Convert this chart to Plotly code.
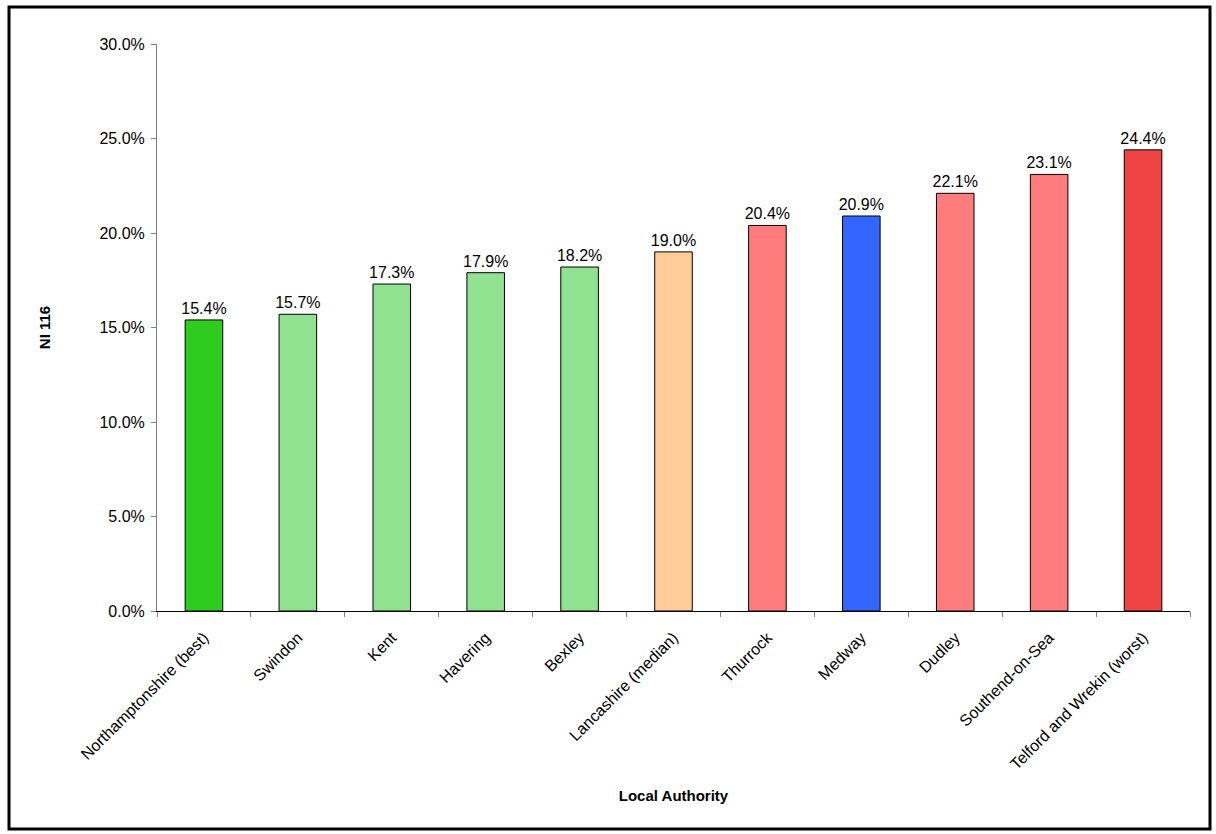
import plotly.graph_objects as go

authorities = ["Northamptonshire (best)", "Swindon", "Kent", "Havering", "Bexley",
               "Lancashire (median)", "Thurrock", "Medway", "Dudley", "Southend-on-Sea",
               "Telford and Wrekin (worst)"]
values = [0.154, 0.157, 0.173, 0.179, 0.182, 0.190, 0.204, 0.209, 0.221, 0.231, 0.244]
colors = ["#2ECC1E", "#90E290", "#90E290", "#90E290", "#90E290", "#FFCC99",
          "#FF7C7C", "#3366FF", "#FF7C7C", "#FF7C7C", "#EE4444"]
y_ticks = [0.0, 0.05, 0.10, 0.15, 0.20, 0.25, 0.30]

W, H = 1216, 834
ml, mr, mt, mb = 157, 26, 44, 223
pw, ph = W - ml - mr, H - mt - mb

font = "Liberation Sans, Arial"

fig = go.Figure(go.Bar(
    x=authorities, y=values,
    marker=dict(color=colors, line=dict(color="black", width=1)),
    width=0.4,
    text=[f"{v*100:.1f}%" for v in values],
    textposition="outside",
    constraintext="none",
    textfont=dict(family=font, size=16, color="black"),
    cliponaxis=False,
))

fig.update_layout(
    width=W, height=H,
    margin=dict(l=ml, r=mr, t=mt, b=mb),
    plot_bgcolor="white", paper_bgcolor="white",
    showlegend=False,
    font=dict(family=font, size=16, color="black"),
    xaxis=dict(
        showline=True, linecolor="black", linewidth=1,
        ticks="outside", tickson="boundaries", ticklen=5, tickcolor="#808080",
        tickangle=-45, tickfont=dict(size=16), ticklabelstandoff=10,
        title=dict(text="<b>Local Authority</b>", font=dict(size=15), standoff=18),
    ),
    yaxis=dict(
        range=[0, 0.30], tickvals=y_ticks, tickformat=".1%",
        showline=True, linecolor="#808080", linewidth=1,
        ticks="outside", ticklen=5, tickcolor="#808080",
        showgrid=False, zeroline=False,
        tickfont=dict(size=16), ticklabelstandoff=3,
        title=dict(text="<b>NI 116</b>", font=dict(size=15), standoff=45),
    ),
    shapes=[dict(
        type="rect", xref="paper", yref="paper",
        x0=(9 - ml) / pw, x1=(1210 - ml) / pw,
        y0=(H - mb - 829) / ph, y1=(H - mb - 7) / ph,
        line=dict(color="black", width=3), layer="below",
    )],
)

fig.write_html("out.html", config={"displayModeBar": False},
               post_script="document.body.style.margin='0px';document.body.style.overflow='hidden';")
